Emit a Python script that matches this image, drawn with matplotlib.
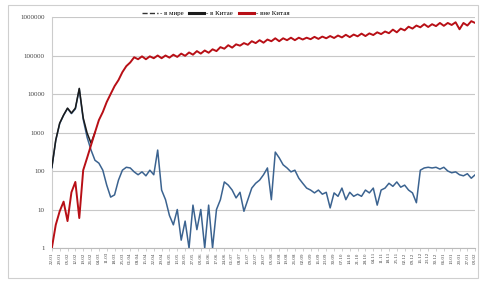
import matplotlib
matplotlib.use('Agg')
import matplotlib.pyplot as plt
from matplotlib.lines import Line2D
from matplotlib.patches import Rectangle
from matplotlib.ticker import FixedLocator, FixedFormatter, NullLocator
import numpy as np
import pandas as pd

# constants
START_DATE = '2020-01-22'
STEP_DAYS = 3.5          # two samples per week
N_WEEKS = 55

# daily new cases, sampled twice a week
outside_china = [1, 4, 9, 16, 5, 28, 52, 6, 105, 220,
                 470, 1000, 2100, 3400, 6200, 10000, 16000, 23000, 37000, 53000,
                 66000, 90000, 80000, 95000, 80000, 95000, 85000, 100000, 85000, 100000,
                 88000, 105000, 92000, 112000, 98000, 120000, 105000, 130000, 112000, 135000,
                 118000, 145000, 130000, 165000, 150000, 185000, 160000, 195000, 180000, 210000,
                 190000, 235000, 210000, 250000, 215000, 260000, 235000, 280000, 235000, 280000,
                 250000, 290000, 250000, 290000, 260000, 290000, 265000, 305000, 270000, 310000,
                 280000, 320000, 285000, 330000, 295000, 345000, 300000, 350000, 315000, 370000,
                 320000, 375000, 340000, 400000, 360000, 420000, 380000, 470000, 400000, 500000,
                 450000, 560000, 500000, 600000, 540000, 650000, 550000, 650000, 580000, 700000,
                 590000, 700000, 620000, 730000, 480000, 700000, 600000, 780000, 700000]

china = [120, 620, 1700, 2800, 4200, 3100, 4100, 13500, 2200, 750,
         350, 190, 160, 105, 43, 21, 24, 58, 105, 125,
         120, 95, 80, 95, 75, 105, 80, 350, 32, 18,
         7, 4, 10, 1.6, 5, 1, 13, 3, 10, 1,
         13, 1, 10, 18, 52, 43, 32, 20, 28, 9,
         18, 36, 48, 58, 80, 120, 18, 310, 220, 145,
         120, 95, 105, 65, 48, 36, 32, 27, 32, 25,
         28, 11, 27, 22, 36, 18, 28, 22, 25, 22,
         32, 27, 36, 13, 32, 36, 48, 40, 52, 38,
         43, 32, 27, 15, 105, 120, 125, 120, 125, 112,
         125, 100, 90, 95, 80, 75, 85, 65, 80]

world = [125, 640, 1750, 2850, 4300, 3200, 4300, 14000, 2400, 970, 530, 1000]

legend_labels = ['- в мире', '- в Китае', '- вне Китая']
y_ticks = [1, 10, 100, 1000, 10000, 100000, 1000000]


def main():
    plt.rcParams['font.family'] = ['Liberation Serif', 'DejaVu Serif']

    fig = plt.figure(figsize=(4.8, 2.81), dpi=100)
    ax = fig.add_axes([0.108, 0.1174, 0.882, 0.8221])

    days_red = np.arange(len(outside_china)) * STEP_DAYS
    days_cn = np.arange(len(china)) * STEP_DAYS
    days_w = np.arange(len(world)) * STEP_DAYS

    ax.plot(days_cn, china, color='#3b6390', lw=1.1, zorder=3)
    ax.plot(days_w, world, color='#1b1b1b', lw=1.1, zorder=4)
    ax.plot(days_red, outside_china, color='#b80f16', lw=1.4, zorder=5)

    ax.set_yscale('log')
    ax.set_ylim(1, 1000000)
    ax.set_xlim(0, days_red[-1])
    ax.yaxis.set_major_locator(FixedLocator(y_ticks))
    ax.yaxis.set_major_formatter(FixedFormatter([str(v) for v in y_ticks]))
    ax.yaxis.set_minor_locator(NullLocator())
    ax.grid(axis='y', color='#c8c8c8', lw=0.8)
    ax.set_axisbelow(True)

    # weekly date labels along x
    dates = pd.date_range(START_DATE, periods=N_WEEKS, freq='7D')
    ax.set_xticks(np.arange(N_WEEKS) * 7)
    ax.set_xticklabels(dates.strftime('%d.%m'), rotation=90, fontsize=3.6, color='#444444')

    ax.tick_params(axis='y', labelsize=5, colors='#444444', length=0, pad=5)
    ax.tick_params(axis='x', length=2, width=0.5, color='#bbbbbb', pad=1)
    for side in ['top', 'right']:
        ax.spines[side].set_visible(False)
    ax.spines['left'].set_color('#cccccc')
    ax.spines['bottom'].set_color('#bbbbbb')

    handles = [Line2D([], [], color='#333333', lw=1.0, ls='--'),
               Line2D([], [], color='#1b1b1b', lw=2.2),
               Line2D([], [], color='#b80f16', lw=2.2)]
    fig.legend(handles, legend_labels, loc='center', bbox_to_anchor=(0.45, 0.953),
               ncol=3, frameon=False, fontsize=5, handlelength=2.2,
               handletextpad=0.3, columnspacing=0.8)

    # light outer frame
    fig.patches.append(Rectangle((0.017, 0.01), 0.978, 0.972, transform=fig.transFigure,
                                 fill=False, edgecolor='#cfcfcf', lw=0.8))

    fig.savefig('out.png', dpi=100)


if __name__ == '__main__':
    main()
